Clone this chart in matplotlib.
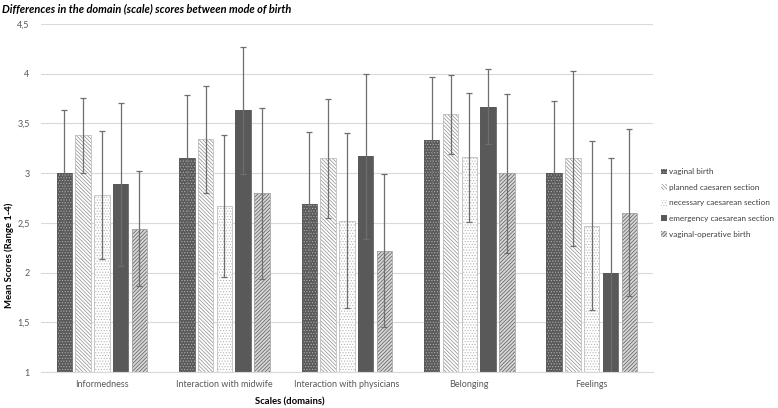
import matplotlib
matplotlib.use('Agg')
import matplotlib.pyplot as plt
import numpy as np

plt.rcParams['font.family'] = ['Lato', 'DejaVu Sans']
plt.rcParams['hatch.linewidth'] = 0.5

# data
domains = ['Informedness', 'Interaction with midwife', 'Interaction with physicians',
           'Belonging', 'Feelings']
groups = ['vaginal birth', 'planned caesaren section', 'necessary caesarean section',
          'emergency caesarean section', 'vaginal-operative birth']

vaginal = [3.00, 3.15, 2.69, 3.33, 3.00]
planned = [3.38, 3.34, 3.15, 3.59, 3.15]
necessary = [2.78, 2.67, 2.52, 3.16, 2.47]
emergency = [2.89, 3.63, 3.17, 3.67, 2.00]
operative = [2.44, 2.80, 2.22, 3.00, 2.60]

vaginal_sd = [0.63, 0.64, 0.72, 0.64, 0.73]
planned_sd = [0.38, 0.54, 0.60, 0.40, 0.88]
necessary_sd = [0.64, 0.71, 0.88, 0.65, 0.85]
emergency_sd = [0.82, 0.64, 0.83, 0.38, 1.15]
operative_sd = [0.58, 0.86, 0.77, 0.80, 0.84]

series = [vaginal, planned, necessary, emergency, operative]
errors = [vaginal_sd, planned_sd, necessary_sd, emergency_sd, operative_sd]

# (face, hatch colour, hatch, outline)
styles = [
    ('#595959', '#b0b0b0', '......', '#595959'),
    ('#ffffff', '#8c8c8c', '\\' * 9, '#bfbfbf'),
    ('#ffffff', '#b5b5b5', '......', '#bfbfbf'),
    ('#595959', '#595959', None, '#595959'),
    ('#d6d6d6', '#5a5a5a', '/' * 9, '#a6a6a6'),
]

fig = plt.figure(figsize=(7.78, 4.08), dpi=100)
ax = fig.add_axes([0.0523, 0.0882, 0.787, 0.853])

x = np.arange(len(domains))
pitch = 0.1533
width = 0.126
handles = []
for i, (vals, errs, st) in enumerate(zip(series, errors, styles)):
    pos = x + (i - 2) * pitch
    face, hcol, hatch, outline = st
    b = ax.bar(pos, vals, width, bottom=0, color=face, edgecolor=hcol,
               hatch=hatch, linewidth=0, zorder=2, label=groups[i])
    ax.bar(pos, vals, width, fill=False, edgecolor=outline, linewidth=0.6, zorder=3)
    ax.errorbar(pos, vals, yerr=errs, fmt='none', ecolor='#6e6e6e',
                elinewidth=0.9, capsize=2, capthick=0.9, zorder=4)
    handles.append(b)

ax.set_ylim(1, 4.5)
ax.set_xlim(-0.5, len(domains) - 0.5)
ax.set_yticks([1, 1.5, 2, 2.5, 3, 3.5, 4, 4.5])
ax.set_yticklabels(['1', '1,5', '2', '2,5', '3', '3,5', '4', '4,5'])
ax.set_xticks(x)
ax.set_xticklabels(domains)
ax.tick_params(axis='both', length=0, colors='#595959', labelsize=6.5)
ax.tick_params(axis='y', pad=8)
ax.tick_params(axis='x', pad=6)
ax.yaxis.grid(True, color='#d9d9d9', linewidth=0.8, zorder=0)
ax.set_axisbelow(True)
for s in ['top', 'right', 'left']:
    ax.spines[s].set_visible(False)
ax.spines['bottom'].set_color('#d9d9d9')
ax.spines['bottom'].set_linewidth(0.8)

fig.text(0.003, 0.978, 'Differences in the domain (scale) scores between mode of birth',
         fontsize=7.9, fontweight='bold', fontstyle='italic', color='#000000',
         ha='left', va='center')
fig.text(290 / 778, 1 - 402 / 408, 'Scales (domains)', fontsize=6.8,
         fontweight='bold', ha='center', va='center', color='#000000')
fig.text(9 / 778, 1 - 255 / 408, 'Mean Scores (Range 1-4)', fontsize=6.8,
         fontweight='bold', ha='center', va='center', rotation=90, color='#000000')

fig.legend(handles=handles, labels=groups, loc='center left',
           bbox_to_anchor=(658 / 778, 1 - 203 / 408), frameon=False,
           fontsize=5.9, handlelength=0.7, handleheight=0.7, handletextpad=0.2,
           labelspacing=1.05, labelcolor='#404040', borderaxespad=0)

fig.savefig('out.png', dpi=100)
